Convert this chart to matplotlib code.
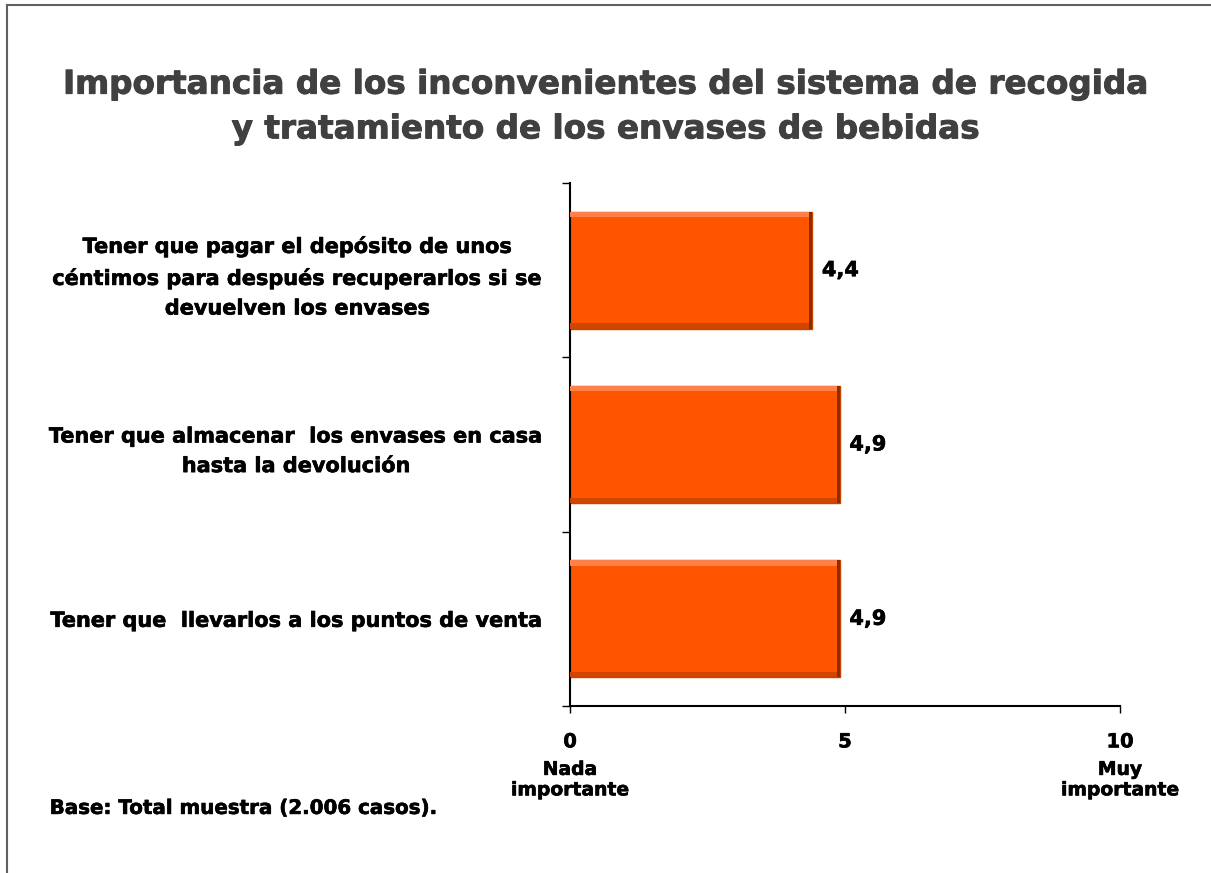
import matplotlib.pyplot as plt
import matplotlib.patheffects as pe
from matplotlib.lines import Line2D
from matplotlib.patches import Rectangle

# Data
categories = [
    'Tener que pagar el depósito de unos\ncéntimos para después recuperarlos si se\ndevuelven los envases',
    'Tener que almacenar  los envases en casa\nhasta la devolución',
    'Tener que  llevarlos a los puntos de venta',
]
values = [4.4, 4.9, 4.9]
value_labels = ['4,4', '4,9', '4,9']
x_ticks = [0, 5, 10]
x_tick_labels = ['0', '5', '10']
x_end_labels = {0: 'Nada\nimportante', 10: 'Muy\nimportante'}

plt.rcParams['font.family'] = ['DejaVu Sans']

# a little extra weight, the original font is heavier than DejaVu bold
heavy = [pe.withStroke(linewidth=0.45, foreground='black')]
heavy_gray = [pe.withStroke(linewidth=0.7, foreground='#404040')]

fig = plt.figure(figsize=(12.11, 8.73), dpi=100)
ax = fig.add_axes([0.4707, 0.1913, 0.4542, 0.5991])

pos = list(range(len(categories)))
bars = ax.barh(pos, values, height=0.67, color='#FF5500', edgecolor='#C84400', linewidth=1)

# bevel look on each bar
for rect in bars:
    x0, y0 = rect.get_x(), rect.get_y()
    w, h = rect.get_width(), rect.get_height()
    bw = 0.05
    bh = h * 0.045
    ax.add_patch(Rectangle((x0, y0), w, bh, color='#FF8048', lw=0, zorder=3))
    ax.add_patch(Rectangle((x0, y0 + h - bh), w, bh, color='#D04600', lw=0, zorder=3))
    ax.add_patch(Rectangle((x0 + w - bw, y0), bw, h, color='#8A2E00', lw=0, zorder=4))

for p, v, lab in zip(pos, values, value_labels):
    ax.text(v + 0.18, p, lab, va='center', ha='left', fontsize=15, fontweight='bold',
            color='black', path_effects=heavy)

ax.set_xlim(0, 10)
ax.set_ylim(len(categories) - 0.5, -0.5)
ax.set_xticks(x_ticks)
ax.set_xticklabels(x_tick_labels, fontsize=14, fontweight='bold', path_effects=heavy)
ax.tick_params(axis='x', direction='out', length=5, width=1, pad=14)

ax.set_yticks(pos)
ax.set_yticklabels(categories, fontsize=15, fontweight='bold', multialignment='center',
                   linespacing=1.6, path_effects=heavy)
ax.tick_params(axis='y', length=0, pad=19)
ax.set_yticks([i - 0.5 for i in range(len(categories) + 1)], minor=True)
ax.tick_params(axis='y', which='minor', direction='out', length=6, width=1)

for k, txt in x_end_labels.items():
    ax.text(k, -0.103, txt, transform=ax.get_xaxis_transform(), ha='center', va='top',
            fontsize=13.5, fontweight='bold', linespacing=1.1, path_effects=heavy)

ax.spines['top'].set_visible(False)
ax.spines['right'].set_visible(False)
ax.spines['left'].set_linewidth(1.5)
ax.spines['bottom'].set_linewidth(1.5)

fig.text(0.5, 0.878, 'Importancia de los inconvenientes del sistema de recogida\ny tratamiento de los envases de bebidas',
         ha='center', va='center', fontsize=23.5, fontweight='bold', color='#404040',
         linespacing=1.45, path_effects=heavy_gray)

fig.text(0.041, 0.074, 'Base: Total muestra (2.006 casos).', ha='left', va='center',
         fontsize=14.3, fontweight='bold', color='black', path_effects=heavy)

# frame (left and top edges)
fig.add_artist(Line2D([0.006, 0.006], [0.0, 0.994], color='#606060', lw=1.5))
fig.add_artist(Line2D([0.006, 1.0], [0.994, 0.994], color='#606060', lw=1.5))

fig.savefig('out.png', dpi=100)
